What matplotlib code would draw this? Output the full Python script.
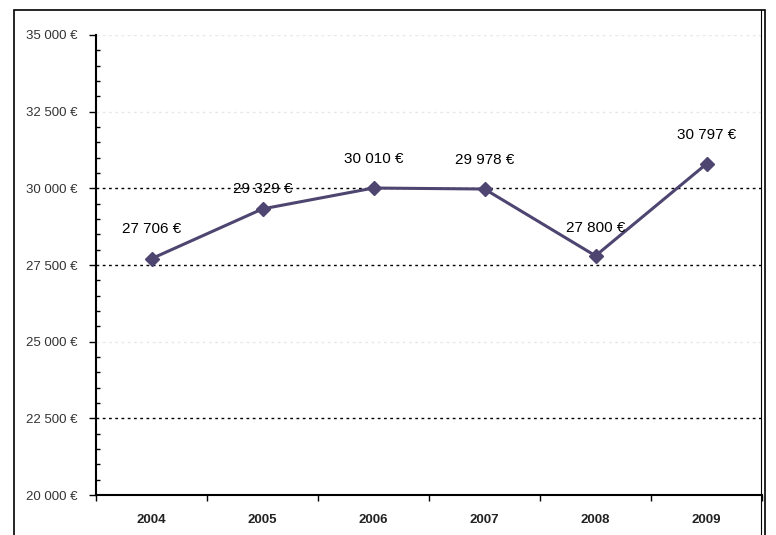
import matplotlib.pyplot as plt
from matplotlib.patches import Rectangle
from matplotlib.ticker import MultipleLocator, FixedLocator

years = ["2004", "2005", "2006", "2007", "2008", "2009"]
values = [27706, 29329, 30010, 29978, 27800, 30797]
labels = ["27 706 €", "29 329 €", "30 010 €", "29 978 €", "27 800 €", "30 797 €"]
yticks = [20000, 22500, 25000, 27500, 30000, 32500, 35000]
ytick_labels = ["20 000 €", "22 500 €", "25 000 €", "27 500 €", "30 000 €", "32 500 €", "35 000 €"]

plt.rcParams['font.family'] = ['Liberation Sans', 'DejaVu Sans']

fig = plt.figure(figsize=(7.76, 5.35), dpi=100)
ax = fig.add_axes([96/776, 1 - 495/535, 666/776, 460/535])

# outer frame
fig.patches.append(Rectangle((14/776, -0.05), 751/776, 1 - 10/535 + 0.05,
                             transform=fig.transFigure, fill=False,
                             edgecolor='black', lw=1.2))
fig.add_artist(plt.Line2D([761/776, 761/776], [0, 1 - 10/535],
                          transform=fig.transFigure, color='black', lw=0.8))

x = list(range(len(years)))
ax.plot(x, values, color='#4e4570', lw=2.2, marker='D', markersize=7, zorder=3)

label_dy = [16, 9, 16, 16, 15, 16]
for xi, v, lab, dy in zip(x, values, labels, label_dy):
    ax.annotate(lab, (xi, v), xytext=(0, dy), textcoords='offset points',
                ha='center', va='bottom', fontsize=11, color='black')

ax.set_xlim(-0.5, len(years) - 0.5)
ax.set_ylim(20000, 35000)

# gridlines
for yt in yticks[1:]:
    c = 'black' if yt in (22500, 27500, 30000) else '#e8e8e8'
    ax.axhline(yt, color=c, lw=1, linestyle=(0, (2, 2.5)), zorder=1)

ax.yaxis.set_major_locator(FixedLocator(yticks))
ax.set_yticklabels(ytick_labels, fontsize=9.5, color='#333333')
ax.yaxis.set_minor_locator(MultipleLocator(500))
ax.tick_params(axis='y', which='major', direction='out', length=5, width=1, pad=8)
ax.tick_params(axis='y', which='minor', direction='in', length=3, width=1)

ax.set_xticks([i - 0.5 for i in range(len(years) + 1)])
ax.set_xticklabels([])
ax.set_xticks(x, minor=True)
ax.set_xticklabels(years, minor=True, fontsize=9.5, fontweight='bold', color='#222222')
ax.tick_params(axis='x', which='major', direction='out', length=4, width=1)
ax.tick_params(axis='x', which='minor', length=0, pad=14)

for s in ['top', 'right']:
    ax.spines[s].set_visible(False)
ax.spines['left'].set_linewidth(1.5)
ax.spines['bottom'].set_linewidth(1.5)

fig.savefig("out.png", dpi=100)
